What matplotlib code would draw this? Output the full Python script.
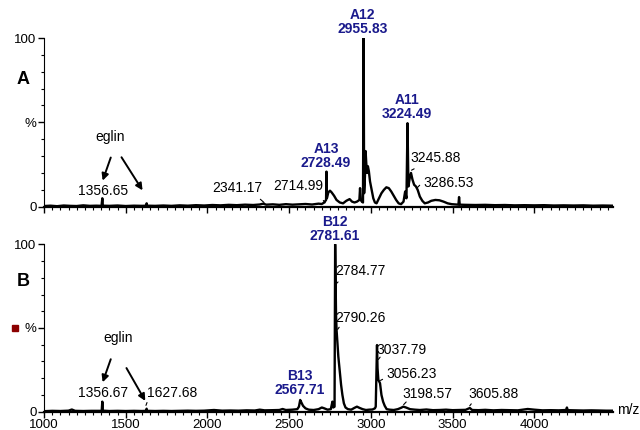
import matplotlib
matplotlib.use('Agg')
import matplotlib.pyplot as plt
from matplotlib.ticker import MultipleLocator
from matplotlib.lines import Line2D

plt.rcParams['font.family'] = ['Liberation Sans', 'DejaVu Sans']

# spectrum A (m/z, relative intensity %)
mz_a = [1000, 1040, 1080, 1120, 1160, 1200, 1240, 1280, 1320, 1352,
        1356.65, 1360, 1400, 1450, 1500, 1550, 1600, 1625, 1628, 1631,
        1680, 1730, 1780, 1830, 1880, 1930, 1980, 2030, 2080, 2130,
        2180, 2230, 2280, 2320, 2341.17, 2360, 2400, 2440, 2480, 2520,
        2560, 2600, 2640, 2680, 2700, 2714.99, 2722, 2726, 2728.49, 2731,
        2740, 2750, 2760, 2775, 2790, 2810, 2830, 2850, 2870, 2885,
        2900, 2915, 2930, 2934, 2938, 2945, 2952, 2955.83, 2959, 2964,
        2968, 2972, 2977, 2982, 2988, 2995, 3005, 3015, 3025, 3035,
        3050, 3065, 3080, 3095, 3110, 3125, 3140, 3155, 3170, 3185,
        3200, 3210, 3218, 3224.49, 3230, 3238, 3245.88, 3255, 3265, 3276,
        3286.53, 3300, 3315, 3330, 3350, 3370, 3395, 3420, 3445, 3470,
        3495, 3520, 3536, 3540, 3544, 3580, 3640, 3700, 3760, 3820,
        3880, 3940, 4000, 4060, 4120, 4180, 4240, 4300, 4360, 4420,
        4480]
int_a = [0.4, 0.6, 0.3, 0.7, 0.5, 0.4, 0.8, 0.5, 0.6, 0.5,
         5.0, 0.6, 0.5, 0.7, 0.4, 0.6, 0.5, 0.6, 2.0, 0.6,
         0.5, 0.7, 0.5, 0.8, 0.6, 0.9, 0.7, 1.0, 0.8, 1.1,
         0.9, 1.2, 1.0, 1.3, 1.8, 1.2, 1.4, 1.1, 1.5, 1.2,
         1.4, 1.6, 1.3, 1.8, 1.6, 2.5, 3.5, 4.0, 20.8, 5.0,
         8.5, 9.5, 8.5, 6.5, 4.0, 2.5, 2.0, 3.5, 4.5, 3.0,
         2.5, 3.0, 4.0, 11.0, 4.0, 3.0, 2.5, 100.0, 8.0, 18.0,
         33.0, 26.0, 20.0, 24.0, 21.0, 15.0, 10.0, 5.0, 2.5, 2.0,
         5.0, 8.0, 10.0, 11.5, 11.0, 9.0, 6.5, 4.0, 2.0, 1.5,
         3.0, 9.0, 5.0, 49.5, 12.0, 17.0, 20.0, 16.0, 13.0, 12.0,
         10.0, 6.0, 3.5, 2.0, 2.5, 3.5, 4.0, 3.8, 3.0, 2.0,
         1.5, 1.3, 1.2, 5.7, 1.2, 1.1, 1.0, 1.1, 0.9, 1.0,
         0.8, 0.9, 0.8, 0.9, 0.7, 0.8, 0.7, 0.8, 0.6, 0.7,
         0.6]

# spectrum B
mz_b = [1000, 1050, 1100, 1150, 1170, 1190, 1240, 1290, 1340, 1353,
        1356.67, 1360, 1400, 1450, 1500, 1550, 1600, 1624, 1627.68, 1631,
        1680, 1730, 1780, 1830, 1880, 1930, 1980, 2040, 2090, 2140,
        2190, 2240, 2290, 2320, 2350, 2400, 2440, 2460, 2480, 2520,
        2550, 2560, 2567.71, 2575, 2585, 2600, 2620, 2650, 2680, 2700,
        2715, 2735, 2755, 2765, 2770, 2778, 2781.61, 2784.77, 2787, 2790.26,
        2795, 2801, 2810, 2818, 2826, 2835, 2845, 2860, 2880, 2900,
        2915, 2930, 2950, 2970, 2990, 3010, 3025, 3030, 3037.79, 3041,
        3046, 3056.23, 3065, 3075, 3085, 3097, 3115, 3140, 3165, 3185,
        3198.57, 3215, 3240, 3270, 3300, 3340, 3380, 3420, 3460, 3500,
        3540, 3580, 3605.88, 3620, 3660, 3700, 3750, 3800, 3850, 3900,
        3960, 4000, 4050, 4100, 4150, 4195, 4200, 4205, 4250, 4300,
        4350, 4400, 4440, 4480]
int_b = [0.3, 0.5, 0.4, 0.6, 1.3, 0.5, 0.4, 0.5, 0.5, 0.5,
         6.0, 0.6, 0.4, 0.5, 0.4, 0.5, 0.4, 0.5, 1.8, 0.5,
         0.4, 0.5, 0.4, 0.5, 0.6, 0.5, 0.6, 1.0, 0.6, 0.7,
         0.6, 0.8, 0.7, 1.2, 0.8, 0.9, 1.0, 1.6, 1.0, 1.2,
         1.5, 3.0, 7.0, 5.5, 3.5, 2.0, 1.2, 1.0, 1.5, 2.5,
         2.0, 1.2, 1.5, 6.0, 2.5, 3.0, 100.0, 75.7, 58.0, 48.8,
         42.0, 33.0, 24.0, 16.0, 10.0, 5.0, 2.5, 1.5, 1.2, 2.3,
         3.0, 2.3, 1.5, 1.0, 1.2, 1.3, 2.0, 3.0, 39.8, 26.0,
         19.0, 17.0, 10.0, 6.0, 3.5, 1.5, 1.2, 1.0, 1.5, 2.3,
         3.0, 2.5, 1.5, 1.2, 1.0, 1.3, 0.9, 1.0, 1.2, 0.9,
         1.0, 1.1, 2.2, 1.0, 0.9, 1.1, 0.8, 1.0, 0.9, 0.8,
         1.6, 1.2, 0.8, 0.9, 0.8, 1.0, 2.5, 0.9, 0.8, 0.7,
         0.8, 0.7, 0.6, 0.6]

blue = '#1a1a8c'

fig = plt.figure(figsize=(6.4, 4.3), dpi=100)
ax1 = fig.add_axes([0.0688, 0.5193, 0.889, 0.3923])
ax2 = fig.add_axes([0.0688, 0.0426, 0.889, 0.3893])

for ax in (ax1, ax2):
    ax.set_xlim(1000, 4482)
    ax.set_ylim(0, 100)
    ax.spines['top'].set_visible(False)
    ax.spines['right'].set_visible(False)
    ax.spines['bottom'].set_linewidth(1.6)
    ax.xaxis.set_major_locator(MultipleLocator(500))
    ax.xaxis.set_minor_locator(MultipleLocator(50))
    ax.set_yticks([0, 50, 100])
    ax.set_yticklabels(['0', '%', '100'])
    ax.yaxis.set_minor_locator(MultipleLocator(10))
    ax.tick_params(which='major', length=4, width=1, labelsize=9.5, pad=1.5)
    ax.tick_params(which='minor', length=2.5, width=0.8)
    ax.set_facecolor('none')

ax1.tick_params(axis='x', labelbottom=False)
ax2.set_xticks([1000, 1500, 2000, 2500, 3000, 3500, 4000])

ax1.plot(mz_a, int_a, color='black', lw=1.7)
ax2.plot(mz_b, int_b, color='black', lw=1.7)

kw = dict(fontsize=10, clip_on=False)
bkw = dict(fontsize=10, color=blue, fontweight='bold', ha='center', va='bottom',
           linespacing=1.0, clip_on=False)
lead = dict(arrowstyle='-', color='black', lw=0.8)
arr = dict(arrowstyle='-|>', color='black', lw=1.4, mutation_scale=10)

# panel A labels
ax1.text(2950, 101, 'A12\n2955.83', **bkw)
ax1.text(2726, 21.5, 'A13\n2728.49', **bkw)
ax1.text(3220, 51, 'A11\n3224.49', **bkw)
ax1.annotate('3245.88', xy=(3234, 20.9), xytext=(3242, 29), ha='left', va='center',
             arrowprops=lead, **kw)
ax1.annotate('', xy=(3270, 9.9), xytext=(3311, 13.9), arrowprops=lead)
ax1.text(3320, 14, '3286.53', ha='left', va='center', **kw)
ax1.text(2554, 12, '2714.99', ha='center', va='center', **kw)
ax1.annotate('', xy=(2730, 1), xytext=(2699, 5), arrowprops=lead)
ax1.text(2185, 11, '2341.17', ha='center', va='center', **kw)
ax1.annotate('', xy=(2359, 1.4), xytext=(2311, 5.5), arrowprops=lead)
ax1.text(1359, 9.3, '1356.65', ha='center', va='center', **kw)
ax1.text(1404, 41.6, 'eglin', ha='center', va='center', **kw)
ax1.annotate('', xy=(1353, 13.9), xytext=(1414, 30.7), arrowprops=arr)
ax1.annotate('', xy=(1612, 8.3), xytext=(1465, 30.7), arrowprops=arr)

# panel B labels
ax2.text(2778, 101, 'B12\n2781.61', **bkw)
ax2.text(2567, 8.5, 'B13\n2567.71', **bkw)
ax2.text(2781, 84, '2784.77', ha='left', va='center', **kw)
ax2.annotate('', xy=(2781, 75.6), xytext=(2811, 78.7), arrowprops=lead)
ax2.text(2781, 55.8, '2790.26', ha='left', va='center', **kw)
ax2.annotate('', xy=(2787, 47.8), xytext=(2816, 51.8), arrowprops=lead)
ax2.text(3036, 37, '3037.79', ha='left', va='center', **kw)
ax2.annotate('', xy=(3036, 29.9), xytext=(3067, 33.9), arrowprops=lead)
ax2.text(3093, 22.3, '3056.23', ha='left', va='center', **kw)
ax2.annotate('', xy=(3044, 17.9), xytext=(3087, 20.1), arrowprops=lead)
ax2.text(3195, 10.4, '3198.57', ha='left', va='center', **kw)
ax2.annotate('', xy=(3189, 3), xytext=(3228, 7), arrowprops=lead)
ax2.text(3597, 10.4, '3605.88', ha='left', va='center', **kw)
ax2.annotate('', xy=(3595, 2.2), xytext=(3625, 6), arrowprops=lead)
ax2.text(1359, 11, '1356.67', ha='center', va='center', **kw)
ax2.text(1628, 11, '1627.68', ha='left', va='center', **kw)
ax2.annotate('', xy=(1618, 2.2), xytext=(1636, 7), arrowprops=lead)
ax2.text(1453, 44, 'eglin', ha='center', va='center', **kw)
ax2.annotate('', xy=(1353, 16), xytext=(1414, 32.9), arrowprops=arr)
ax2.annotate('', xy=(1628, 5), xytext=(1496, 27.5), arrowprops=arr)

ax2.text(1.007, 0.01, 'm/z', transform=ax2.transAxes, ha='left', va='center',
         fontsize=10, clip_on=False)

fig.text(23 / 640, 1 - 80 / 430, 'A', fontsize=13, fontweight='bold',
         ha='center', va='center')
fig.text(23 / 640, 1 - 282 / 430, 'B', fontsize=13, fontweight='bold',
         ha='center', va='center')
fig.add_artist(Line2D([14.5 / 640], [1 - 328 / 430], marker='s', color='#8b0000',
                      markersize=4, transform=fig.transFigure))

fig.savefig('out.png', dpi=100)
